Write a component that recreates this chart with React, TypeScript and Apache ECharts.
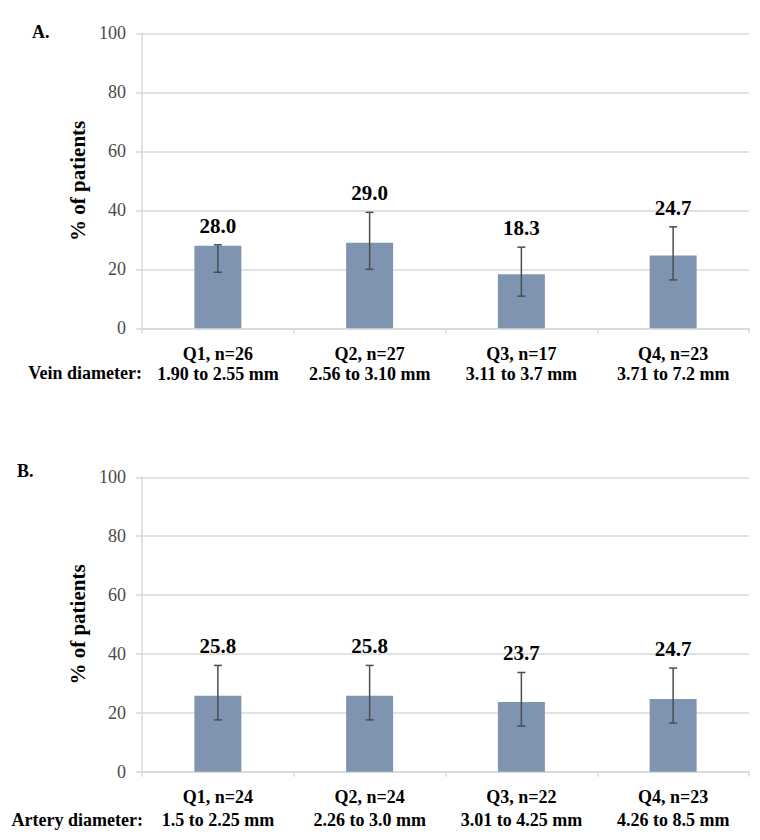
import React, { useEffect, useRef } from "react";
import * as echarts from "echarts";

const categoriesA = ["Q1, n=26", "Q2, n=27", "Q3, n=17", "Q4, n=23"];
const rangesA = ["1.90 to 2.55 mm", "2.56 to 3.10 mm", "3.11 to 3.7 mm", "3.71 to 7.2 mm"];
const valuesA = [28.0, 29.0, 18.3, 24.7];
const lowerA = [19.0, 20.0, 10.9, 16.4];
const upperA = [28.3, 39.3, 27.5, 34.4];

const categoriesB = ["Q1, n=24", "Q2, n=24", "Q3, n=22", "Q4, n=23"];
const rangesB = ["1.5 to 2.25 mm", "2.26 to 3.0 mm", "3.01 to 4.25 mm", "4.26 to 8.5 mm"];
const valuesB = [25.8, 25.8, 23.7, 24.7];
const lowerB = [17.6, 17.6, 15.5, 16.5];
const upperB = [36.1, 36.1, 33.7, 35.2];

const yTicks = { min: 0, max: 100, interval: 20 };
const yAxisTitle = "% of patients";
const panelLabels = ["A.", "B."];
const rowTitles = ["Vein diameter:", "Artery diameter:"];

const FONT = '"Liberation Serif", "Times New Roman", serif';
const BAR = "#7F94B1";
const GRID = "#d9d9d9";
const ERR = "#4d4d4d";

function errorRender(params: any, api: any) {
  const x = api.value(0);
  const lo = api.value(1);
  const hi = api.value(2);
  const v = api.value(3);
  const pLo = api.coord([x, lo]);
  const pHi = api.coord([x, hi]);
  const cap = 4;
  return {
    type: "group",
    children: [
      { type: "line", shape: { x1: pLo[0], y1: pLo[1], x2: pHi[0], y2: pHi[1] }, style: { stroke: ERR, lineWidth: 1.5 } },
      { type: "line", shape: { x1: pLo[0] - cap, y1: pLo[1], x2: pLo[0] + cap, y2: pLo[1] }, style: { stroke: ERR, lineWidth: 1.5 } },
      { type: "line", shape: { x1: pHi[0] - cap, y1: pHi[1], x2: pHi[0] + cap, y2: pHi[1] }, style: { stroke: ERR, lineWidth: 1.5 } },
      {
        type: "text",
        x: pHi[0],
        y: pHi[1] - 19,
        style: {
          text: v.toFixed(1),
          fill: "#000",
          fontFamily: FONT,
          fontWeight: "bold",
          fontSize: 21,
          align: "center",
          verticalAlign: "middle",
        },
      },
    ],
  };
}

function makeX(gridIndex: number, cats: string[], ranges: string[], margin: number, lh: number) {
  return {
    type: "category",
    gridIndex,
    data: cats.map((c, i) => `${c}\n${ranges[i]}`),
    axisLine: { show: true, lineStyle: { color: GRID, width: 1.5 } },
    axisTick: { show: true, length: 5, lineStyle: { color: GRID, width: 1.5 } },
    axisLabel: {
      margin,
      color: "#000",
      fontFamily: FONT,
      fontWeight: "bold",
      fontSize: 18,
      lineHeight: lh,
      interval: 0,
    },
  };
}

function makeY(gridIndex: number) {
  return {
    type: "value",
    gridIndex,
    min: yTicks.min,
    max: yTicks.max,
    interval: yTicks.interval,
    name: yAxisTitle,
    nameLocation: "middle",
    nameGap: 51,
    nameRotate: 90,
    nameTextStyle: { fontFamily: FONT, fontWeight: "bold", fontSize: 21, color: "#000" },
    axisLine: { show: true, lineStyle: { color: GRID, width: 1.5 } },
    axisTick: { show: true, length: 6, lineStyle: { color: GRID, width: 1.5 } },
    splitLine: { show: true, lineStyle: { color: GRID, width: 1.5 } },
    axisLabel: { margin: 16, color: "#4a4a4a", fontFamily: FONT, fontSize: 18 },
  };
}

export default function App() {
  const ref = useRef<HTMLDivElement>(null);
  useEffect(() => {
    document.body.style.margin = "0";
    const chart = echarts.init(ref.current!, null, { renderer: "svg" });
    const option: any = {
      animation: false,
      backgroundColor: "#fff",
      grid: [
        { left: 142, right: 11, top: 33.3, height: 295 },
        { left: 142, right: 11, top: 477.3, height: 294.4 },
      ],
      xAxis: [makeX(0, categoriesA, rangesA, 16, 19.5), makeX(1, categoriesB, rangesB, 13.5, 23)],
      yAxis: [makeY(0), makeY(1)],
      series: [
        { type: "bar", xAxisIndex: 0, yAxisIndex: 0, data: valuesA, barWidth: 47, itemStyle: { color: BAR } },
        {
          type: "custom",
          xAxisIndex: 0,
          yAxisIndex: 0,
          renderItem: errorRender,
          encode: { x: 0, y: [1, 2] },
          data: valuesA.map((v, i) => [i, lowerA[i], upperA[i], v]),
          z: 5,
        },
        { type: "bar", xAxisIndex: 1, yAxisIndex: 1, data: valuesB, barWidth: 47, itemStyle: { color: BAR } },
        {
          type: "custom",
          xAxisIndex: 1,
          yAxisIndex: 1,
          renderItem: errorRender,
          encode: { x: 0, y: [1, 2] },
          data: valuesB.map((v, i) => [i, lowerB[i], upperB[i], v]),
          z: 5,
        },
      ],
      graphic: [
        { type: "text", left: 32, top: 23, style: { text: panelLabels[0], fill: "#000", font: `bold 18px ${FONT}` } },
        { type: "text", left: 17, top: 462, style: { text: panelLabels[1], fill: "#000", font: `bold 18px ${FONT}` } },
        {
          type: "text",
          x: 142,
          y: 373,
          style: { text: rowTitles[0], fill: "#000", font: `bold 18px ${FONT}`, align: "right", verticalAlign: "middle" },
        },
        {
          type: "text",
          x: 143,
          y: 820,
          style: { text: rowTitles[1], fill: "#000", font: `bold 18px ${FONT}`, align: "right", verticalAlign: "middle" },
        },
      ],
    };
    chart.setOption(option);
    return () => chart.dispose();
  }, []);
  return <div ref={ref} style={{ position: "absolute", left: 0, top: 0, width: 760, height: 840 }} />;
}
